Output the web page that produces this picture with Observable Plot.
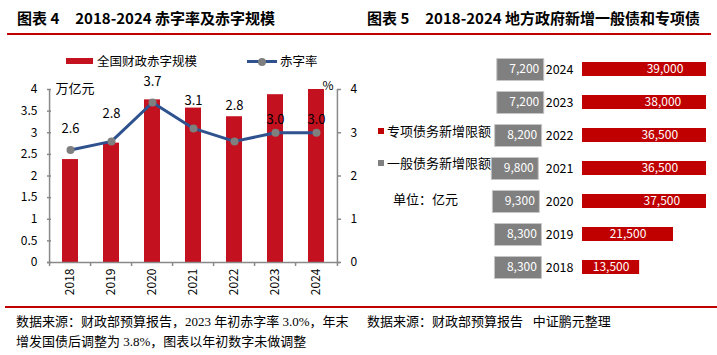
<!DOCTYPE html>
<html>
<head>
<meta charset="utf-8">
<script src="https://cdn.jsdelivr.net/npm/d3@7"></script>
<script src="https://cdn.jsdelivr.net/npm/@observablehq/plot@0.6"></script>
<style>
html, body { margin: 0; padding: 0; background: #fff; }
#root { position: relative; width: 717px; height: 355px; overflow: hidden; background: #fff;
  font-family: "Noto Sans CJK SC", "Noto Sans", sans-serif; color: #000; }
.abs { position: absolute; white-space: nowrap; }
.title { font-size: 15px; font-weight: bold; line-height: 20px; top: 8px; }
.title .gap { display: inline-block; width: 16px; }
.rule { position: absolute; background: #c00000; height: 2px; }
.lg { font-size: 12.5px; line-height: 16px; }
.note { font-size: 13px; line-height: 18px; font-family: "Liberation Serif", "Noto Sans CJK SC", serif; }
.sw { position: absolute; }
</style>
</head>
<body>
<div id="root">
  <div class="abs title" style="left:17px;">图表 4<span class="gap"></span>2018-2024 赤字率及赤字规模</div>
  <div class="abs title" style="left:367px;">图表 5<span class="gap"></span>2018-2024 地方政府新增一般债和专项债</div>
  <div class="rule" style="left:7px; top:33px; width:704px;"></div>

  <div id="c1" class="abs" style="left:0; top:0;"></div>
  <div id="c2g" class="abs" style="left:360px; top:0;"></div>
  <div id="c2r" class="abs" style="left:360px; top:0;"></div>

  <!-- legend chart 1 -->
  <div class="sw" style="left:66px; top:58px; width:27px; height:6px; background:#c3111f;"></div>
  <div class="abs lg" style="left:97px; top:53px;">全国财政赤字规模</div>
  <div class="sw" style="left:247px; top:60px; width:30px; height:3px; background:#2f528f;"></div>
  <div class="sw" style="left:258px; top:57.5px; width:8px; height:8px; border-radius:50%; background:#7f7f7f;"></div>
  <div class="abs lg" style="left:280px; top:53px;">赤字率</div>

  <!-- legend chart 2 -->
  <div class="sw" style="left:378px; top:128px; width:6px; height:6px; background:#c00000;"></div>
  <div class="abs lg" style="left:387px; top:123px; font-size:13px;">专项债务新增限额</div>
  <div class="sw" style="left:378px; top:160px; width:6px; height:6px; background:#808080;"></div>
  <div class="abs lg" style="left:387px; top:155px; font-size:13px;">一般债务新增限额</div>
  <div class="abs lg" style="left:393px; top:191px; font-size:13px;">单位：亿元</div>

  <div class="rule" style="left:5px; top:306px; width:712px;"></div>
  <div class="abs note" style="left:16px; top:313px;">数据来源：财政部预算报告，2023 年初赤字率 3.0%，年末</div>
  <div class="abs note" style="left:16px; top:333px;">增发国债后调整为 3.8%，图表以年初数字未做调整</div>
  <div class="abs note" style="left:367px; top:313px;">数据来源：财政部预算报告&nbsp;&nbsp;&nbsp;中证鹏元整理</div>
</div>
<script>
// ---- Chart 1 data: 赤字率及赤字规模 ----
const years = ["2018", "2019", "2020", "2021", "2022", "2023", "2024"];
const deficitScale = [2.38, 2.76, 3.76, 3.57, 3.37, 3.88, 4.06]; // 万亿元
const deficitRate = [2.6, 2.8, 3.7, 3.1, 2.8, 3.0, 3.0];         // %
const rateLabels = ["2.6", "2.8", "3.7", "3.1", "2.8", "3.0", "3.0"];
const leftTicks = [0, 0.5, 1, 1.5, 2, 2.5, 3, 3.5, 4];
const rightTicks = [0, 1, 2, 3, 4];

// ---- Chart 2 data: 地方政府新增一般债和专项债 (亿元) ----
const bondYears = ["2018", "2019", "2020", "2021", "2022", "2023", "2024"];
const generalBond = [8300, 8300, 9300, 9800, 8200, 7200, 7200];
const specialBond = [13500, 21500, 37500, 36500, 36500, 38000, 39000];

const font = '"Noto Sans CJK SC", "Noto Sans", sans-serif';
const axisColor = "#898989";
const plainNum = (d) => String(d);

// ---------- Chart 1 ----------
const rows = years.map((y, i) => ({year: y, scale: deficitScale[i], rate: deficitRate[i], label: rateLabels[i]}));
const W1 = 360, H1 = 305, mL = 47, mR = 20, mT = 89, mB = 43;
const step1 = (W1 - mL - mR) / years.length;
const byYears = (ys) => (d) => ys.includes(d.year);

const chart1 = Plot.plot({
  width: W1, height: H1,
  marginLeft: mL, marginRight: mR, marginTop: mT, marginBottom: mB,
  style: {fontFamily: font, fontSize: "12px", color: "#000", background: "transparent"},
  x: {type: "band", domain: years, paddingInner: 0.6, paddingOuter: 0.3, align: 0.5, axis: null},
  y: {domain: [0, 4], axis: null},
  marks: [
    Plot.barY(rows, {x: "year", y: "scale", fill: "#c3111f", clip: true}),
    // axis lines
    Plot.ruleY([0], {stroke: axisColor, strokeWidth: 1.5}),
    Plot.ruleX([years[0]], {y1: 0, y2: 4, dx: -step1 / 2, stroke: axisColor, strokeWidth: 1.5}),
    Plot.ruleX([years[years.length - 1]], {y1: 0, y2: 4, dx: step1 / 2, stroke: axisColor, strokeWidth: 1.5}),
    // x ticks at band boundaries
    Plot.ruleX(years, {y1: 0, y2: 0, insetBottom: -4, dx: -step1 / 2, stroke: axisColor, strokeWidth: 1.5}),
    Plot.ruleX([years[years.length - 1]], {y1: 0, y2: 0, insetBottom: -4, dx: step1 / 2, stroke: axisColor, strokeWidth: 1.5}),
    Plot.axisX({tickSize: 0, tickPadding: 6, tickRotate: -90, fontSize: 12, label: null}),
    Plot.axisY({anchor: "left", ticks: leftTicks, tickFormat: plainNum, tickSize: -4, tickPadding: 14, stroke: axisColor, fill: "#000", strokeWidth: 1.5, fontSize: 12, label: null}),
    Plot.axisY({anchor: "right", ticks: rightTicks, tickFormat: plainNum, tickSize: -4, tickPadding: 14, stroke: axisColor, fill: "#000", strokeWidth: 1.5, fontSize: 12, label: null}),
    Plot.text(["万亿元"], {frameAnchor: "top-left", dx: 8, dy: -1, textAnchor: "start", lineAnchor: "middle", fontSize: 13}),
    Plot.text(["%"], {frameAnchor: "top-right", dx: -7, dy: -3, textAnchor: "end", lineAnchor: "middle", fontSize: 12}),
    // deficit rate line
    Plot.line(rows, {x: "year", y: "rate", stroke: "#2f528f", strokeWidth: 3}),
    Plot.dot(rows, {x: "year", y: "rate", r: 4, fill: "#7f7f7f"}),
    Plot.text(rows, {filter: byYears(["2018", "2020"]), x: "year", y: "rate", text: "label", dy: -21, fontSize: 13}),
    Plot.text(rows, {filter: byYears(["2019", "2021"]), x: "year", y: "rate", text: "label", dy: -28, fontSize: 13}),
    Plot.text(rows, {filter: byYears(["2022"]), x: "year", y: "rate", text: "label", dy: -36, fontSize: 13}),
    Plot.text(rows, {filter: byYears(["2023", "2024"]), x: "year", y: "rate", text: "label", dy: -13, fontSize: 13})
  ]
});
document.getElementById("c1").appendChild(chart1);

// ---------- Chart 2 ----------
const fmt = d3.format(",");
const bondRows = bondYears.map((y, i) => ({year: y, general: generalBond[i], special: specialBond[i]}));
const yBand = {type: "band", domain: [...bondYears].reverse(), padding: 0.59, align: 0.5, axis: null};
const W2 = 357, H2 = 300;

// red bars: 专项债务新增限额
const chart2r = Plot.plot({
  width: W2, height: H2,
  marginLeft: 222, marginRight: 11, marginTop: 39, marginBottom: 3,
  style: {fontFamily: font, fontSize: "12px", color: "#000", background: "transparent"},
  x: {domain: [0, 29300], axis: null},
  y: yBand,
  marks: [
    Plot.barX(bondRows, {y: "year", x: "special", fill: "#c00000", clip: true}),
    Plot.text(bondRows, {y: "year", x: (d) => d.special / 2, text: (d) => fmt(d.special), fill: "white", fontSize: 12}),
    Plot.axisY({tickSize: 0, tickPadding: 9, fontSize: 12.5, label: null})
  ]
});

// gray label boxes: 一般债务新增限额
const boxSymbol = {draw(context) { context.rect(-23.5, -11, 47, 22); }};
const chart2g = Plot.plot({
  width: W2, height: H2,
  marginLeft: 0, marginRight: 0, marginTop: 39, marginBottom: 3,
  style: {fontFamily: font, fontSize: "12px", color: "#000", background: "transparent"},
  x: {domain: [0, 10000], range: [175, 132.7], axis: null},
  y: yBand,
  marks: [
    Plot.dot(bondRows, {y: "year", x: (d) => d.general / 2, symbol: boxSymbol, fill: "#808080", stroke: "#c6c6c6", strokeWidth: 1}),
    Plot.text(bondRows, {y: "year", x: (d) => d.general / 2, text: (d) => fmt(d.general), fill: "white", textAnchor: "end", dx: 19, fontSize: 12})
  ]
});
document.getElementById("c2g").appendChild(chart2g);
document.getElementById("c2r").appendChild(chart2r);
</script>
</body>
</html>
